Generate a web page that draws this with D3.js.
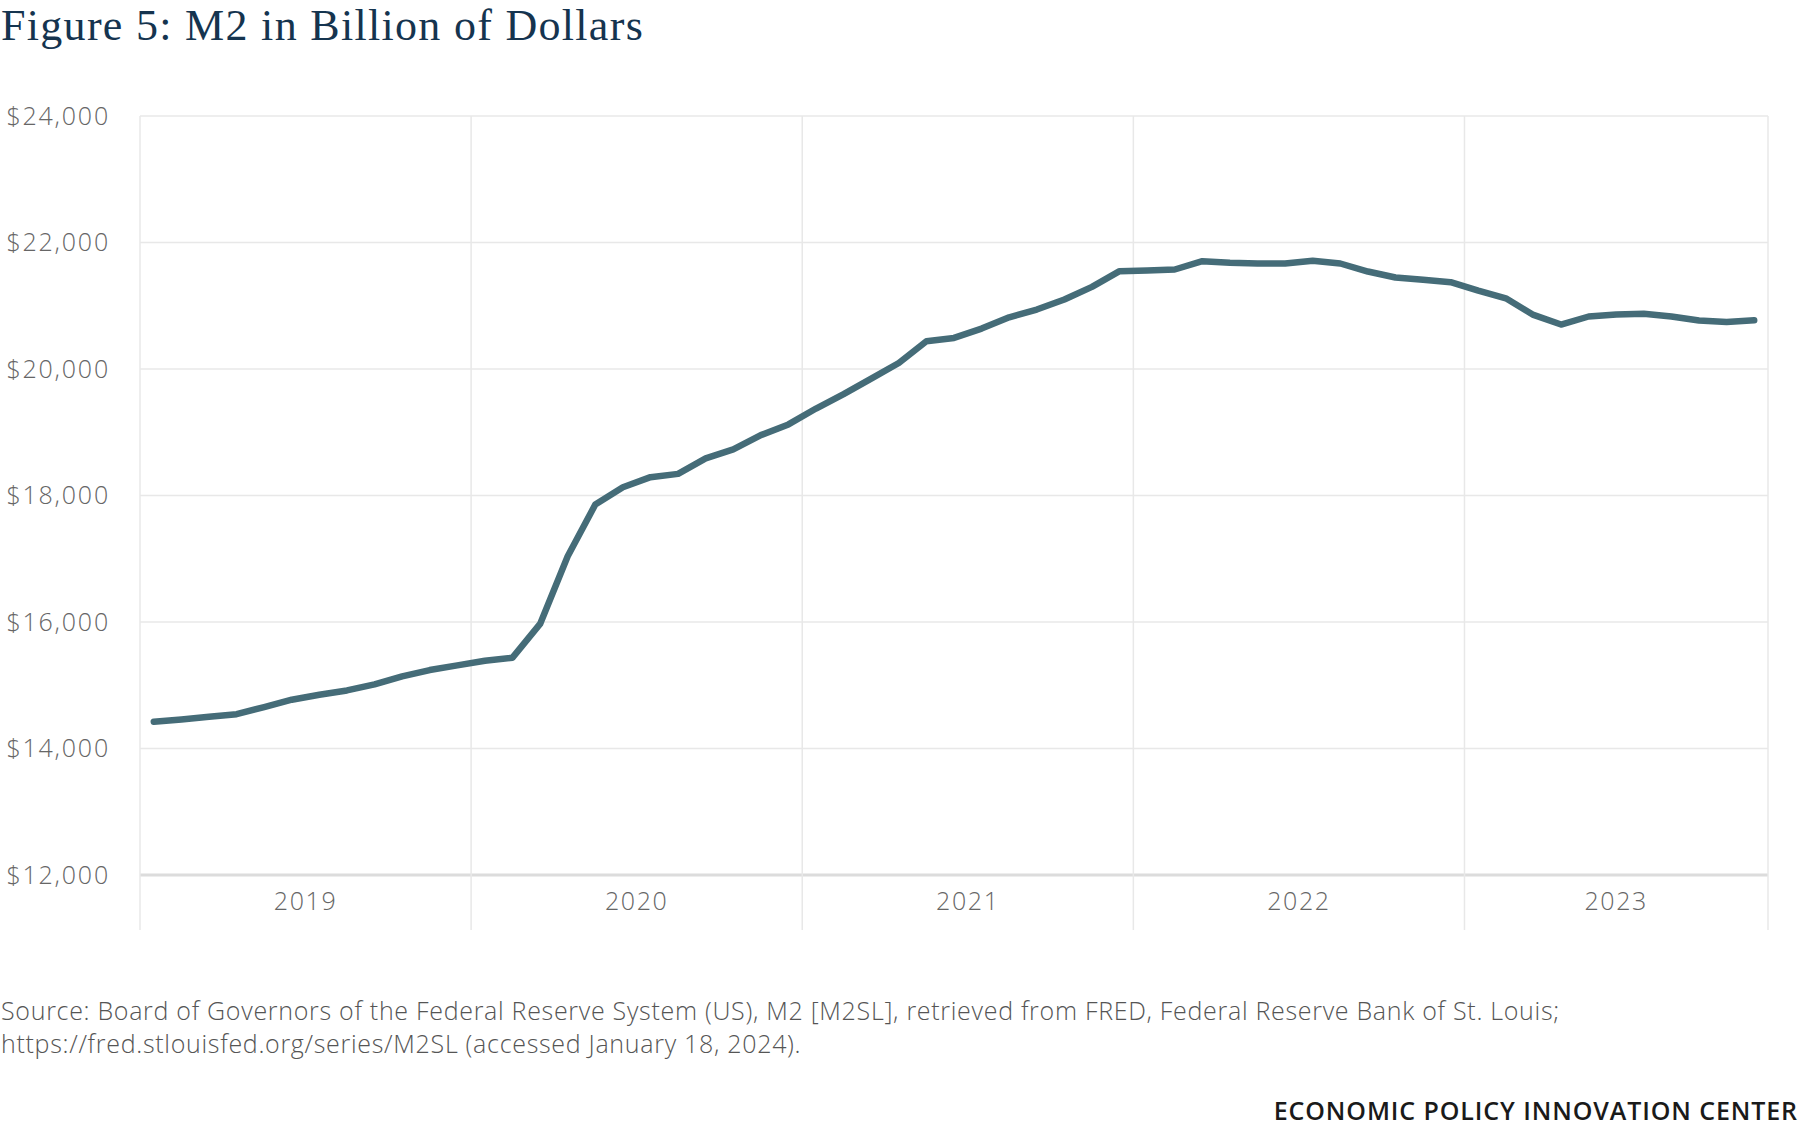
<!DOCTYPE html>
<html><head><meta charset="utf-8">
<script src="https://cdn.jsdelivr.net/npm/d3@7"></script>
<style>body{margin:0;background:#fff} svg{display:block}</style>
</head><body><svg id="c" width="1800" height="1128"></svg>
<script>
// ---- data ----
const title = "Figure 5: M2 in Billion of Dollars";
const startMonth = new Date(2019, 0, 1);
const endMonth = new Date(2023, 11, 1); // exclusive: last point Nov 2023
const m2Values = [
  14422, 14459, 14501, 14543, 14654, 14771, 14850, 14918, 15013, 15140, 15240, 15314,
  15388, 15436, 15970, 17039, 17857, 18131, 18290, 18342, 18586, 18728, 18955, 19124,
  19375, 19604, 19848, 20095, 20438, 20491, 20639, 20818, 20940, 21098, 21298, 21547,
  21557, 21573, 21705, 21679, 21668, 21668, 21710, 21668, 21541, 21446, 21410, 21373,
  21240, 21118, 20855, 20703, 20830, 20862, 20872, 20830, 20767, 20744, 20770
];
const yTicks = [12000, 14000, 16000, 18000, 20000, 22000, 24000];
const years = [2019, 2020, 2021, 2022, 2023];
const sourceLines = [
  "Source: Board of Governors of the Federal Reserve System (US), M2 [M2SL], retrieved from FRED, Federal Reserve Bank of St. Louis;",
  "https://fred.stlouisfed.org/series/M2SL (accessed January 18, 2024)."
];
const credit = "ECONOMIC POLICY INNOVATION CENTER";

// ---- layout ----
const months = d3.timeMonth.range(startMonth, endMonth);
const data = months.map((m, i) => ({ date: m, value: m2Values[i] }));
const L = 140, R = 1768, T = 116, B = 875, gridBottom = 930;
const labelFont = "'Open Sans', 'Noto Sans', sans-serif";

const svg = d3.select("#c");
const x = d3.scaleBand().domain(months.map(d => +d)).range([L, R]).padding(0);
const y = d3.scaleLinear().domain([12000, 24000]).range([B, T]);
const bw = x.bandwidth();

// title
svg.append("text").attr("x", 1).attr("y", 40)
  .attr("font-family", "'Liberation Serif', serif").attr("font-size", 44)
  .attr("letter-spacing", 1.3)
  .attr("fill", "#15344f").text(title);

// horizontal grid
svg.append("g").selectAll("line").data(yTicks).join("line")
  .attr("x1", L).attr("x2", R)
  .attr("y1", d => y(d)).attr("y2", d => y(d))
  .attr("stroke", d => d === 12000 ? "#dcdcdc" : "#e8e8e8")
  .attr("stroke-width", d => d === 12000 ? 3 : 1.5);

// vertical grid (year boundaries + right edge)
const yearStarts = years.map(yr => x(+new Date(yr, 0, 1)));
const vLines = yearStarts.concat([R]);
svg.append("g").selectAll("line").data(vLines).join("line")
  .attr("x1", d => d).attr("x2", d => d)
  .attr("y1", T).attr("y2", gridBottom)
  .attr("stroke", "#e8e8e8").attr("stroke-width", 1.5);

// y labels
const fmt = d3.format(",");
svg.append("g").selectAll("text").data(yTicks).join("text")
  .attr("x", 110).attr("y", d => y(d)).attr("dy", "0.35em")
  .attr("text-anchor", "end")
  .attr("font-family", labelFont).attr("font-size", 25).attr("font-weight", 300)
  .attr("letter-spacing", 1.8)
  .attr("fill", "#666").text(d => "$" + fmt(d));

// x labels (centered on each year's months)
svg.append("g").selectAll("text").data(years).join("text")
  .attr("x", yr => {
    const ms = months.filter(m => m.getFullYear() === yr);
    return (x(+ms[0]) + x(+ms[ms.length - 1]) + bw) / 2;
  })
  .attr("y", 901).attr("dy", "0.35em").attr("text-anchor", "middle")
  .attr("font-family", labelFont).attr("font-size", 25).attr("font-weight", 300)
  .attr("letter-spacing", 1.6)
  .attr("fill", "#666").text(d => d);

// line
const line = d3.line().x(d => x(+d.date) + bw / 2).y(d => y(d.value));
svg.append("path").datum(data).attr("d", line)
  .attr("fill", "none").attr("stroke", "#456c78").attr("stroke-width", 6.5)
  .attr("stroke-linejoin", "round").attr("stroke-linecap", "round");

// source
svg.append("g").selectAll("text").data(sourceLines).join("text")
  .attr("x", 1).attr("y", (d, i) => 1011 + i * 33).attr("dy", "0.35em")
  .attr("font-family", labelFont).attr("font-size", 25).attr("font-weight", 300)
  .attr("letter-spacing", 0.7)
  .attr("fill", "#555").text(d => d);

// credit
svg.append("text").attr("x", 1798).attr("y", 1111).attr("dy", "0.35em")
  .attr("text-anchor", "end")
  .attr("font-family", labelFont).attr("font-size", 25).attr("font-weight", 600)
  .attr("letter-spacing", 0.9)
  .attr("fill", "#1a1a1a").text(credit);
</script></body></html>
